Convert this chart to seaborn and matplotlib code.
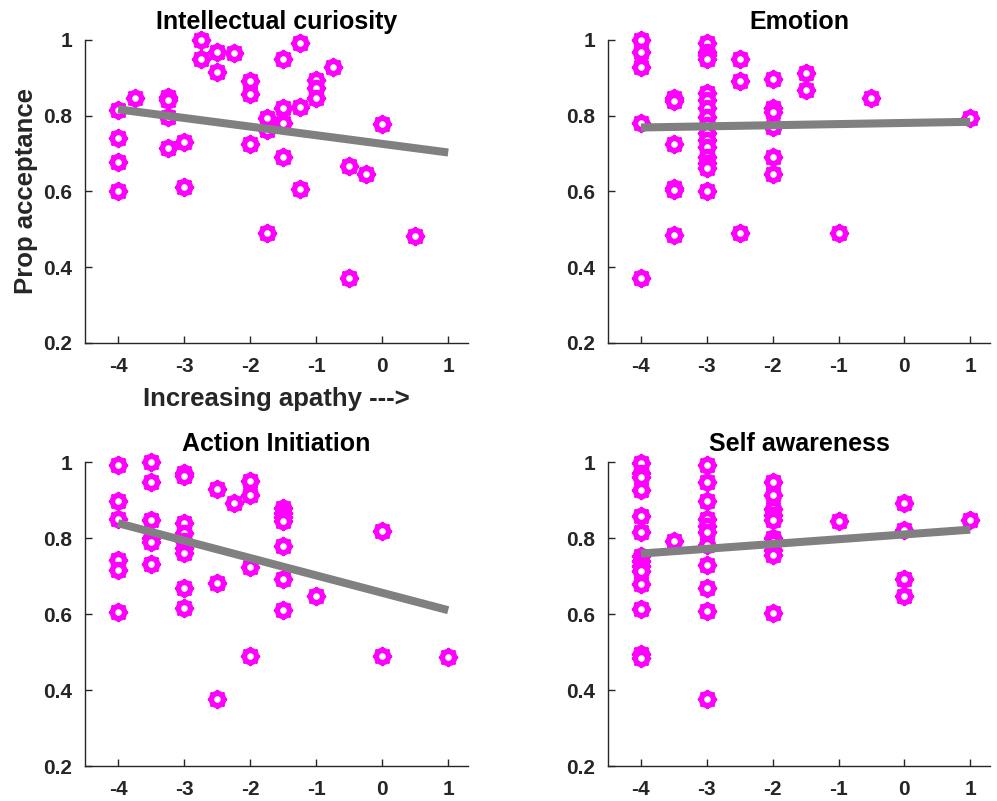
import matplotlib
matplotlib.use("Agg")
import matplotlib.pyplot as plt
import seaborn as sns
import pandas as pd

sns.set_theme(style="ticks")
plt.rcParams['font.family'] = ['Liberation Sans', 'DejaVu Sans']

titles = ["Intellectual curiosity", "Emotion", "Action Initiation", "Self awareness"]

ic_x = [-4, -4, -4, -4, -3.75, -3.25, -3.25, -3.25, -3.25, -3, -3, -2.75, -2.75,
        -2.5, -2.5, -2.25, -2, -2, -2, -1.75, -1.75, -1.75, -1.5, -1.5, -1.5, -1.5,
        -1.25, -1.25, -1.25, -1, -1, -1, -0.75, -0.5, -0.5, -0.25, 0, 0.5]
ic_y = [0.815, 0.74, 0.679, 0.6, 0.846, 0.85, 0.842, 0.797, 0.714, 0.731, 0.613, 1.0, 0.949,
        0.969, 0.916, 0.965, 0.892, 0.857, 0.725, 0.793, 0.762, 0.49, 0.82, 0.78, 0.949, 0.692,
        0.993, 0.822, 0.606, 0.894, 0.872, 0.846, 0.928, 0.667, 0.371, 0.646, 0.778, 0.483]

em_x = [-4] * 5 + [-3.5] * 6 + [-3] * 16 + [-2.5] * 3 + [-2] * 6 + [-1.5] * 2 + [-1, -0.5, 1]
em_y = [1.0, 0.969, 0.929, 0.78, 0.371,
        0.846, 0.84, 0.725, 0.61, 0.605, 0.485,
        0.993, 0.969, 0.96, 0.949, 0.859, 0.842, 0.82, 0.798, 0.776, 0.754, 0.736, 0.718,
        0.692, 0.674, 0.661, 0.6,
        0.949, 0.892, 0.49,
        0.896, 0.82, 0.811, 0.771, 0.69, 0.645,
        0.914, 0.868,
        0.49, 0.846, 0.795]

ai_x = [-4] * 6 + [-3.5] * 6 + [-3] * 9 + [-2.5] * 3 + [-2.25] + [-2] * 4 + [-1.5] * 7 + [-1, 0, 0, 1]
ai_y = [0.992, 0.898, 0.85, 0.743, 0.717, 0.605,
        1.0, 0.948, 0.848, 0.80, 0.79, 0.732,
        0.97, 0.963, 0.839, 0.813, 0.791, 0.774, 0.76, 0.669, 0.615,
        0.928, 0.682, 0.376,
        0.892,
        0.951, 0.914, 0.725, 0.49,
        0.879, 0.865, 0.855, 0.844, 0.78, 0.692, 0.61,
        0.647, 0.819, 0.49, 0.487]

sa_x = [-4] * 14 + [-3.5] + [-3] * 11 + [-2] * 10 + [-1] + [0] * 4 + [1]
sa_y = [0.998, 0.972, 0.961, 0.927, 0.857, 0.815, 0.752, 0.739, 0.726, 0.712, 0.68, 0.614, 0.494, 0.485,
        0.793,
        0.992, 0.948, 0.898, 0.85, 0.832, 0.817, 0.782, 0.73, 0.669, 0.608, 0.376,
        0.948, 0.914, 0.876, 0.861, 0.848, 0.8, 0.789, 0.769, 0.756, 0.603,
        0.846,
        0.892, 0.822, 0.692, 0.647,
        0.848]

fit_x = [-4, 1]
ic_fit = [0.817, 0.703]
em_fit = [0.769, 0.784]
ai_fit = [0.839, 0.610]
sa_fit = [0.759, 0.822]

x_ticks = [-4, -3, -2, -1, 0, 1]
y_ticks = [0.2, 0.4, 0.6, 0.8, 1.0]
y_tick_labels = ["0.2", "0.4", "0.6", "0.8", "1"]

panels = [(ic_x, ic_y, ic_fit), (em_x, em_y, em_fit), (ai_x, ai_y, ai_fit), (sa_x, sa_y, sa_fit)]

W, H = 997, 801
fig = plt.figure(figsize=(W / 100, H / 100), dpi=100)
boxes = [(85, 40, 468, 343), (608, 40, 990, 343), (85, 462, 468, 766), (608, 462, 990, 766)]

axis_col = "#262626"
mag = "#ff00ff"

for i, ((px, py, pf), (l, t, r, b)) in enumerate(zip(panels, boxes)):
    ax = fig.add_axes([l / W, 1 - b / H, (r - l) / W, (b - t) / H])
    df = pd.DataFrame({"x": px, "y": py})
    sns.scatterplot(data=df, x="x", y="y", ax=ax, marker=(8, 2, 0), s=150,
                    color=mag, edgecolor=mag, linewidth=1.8, clip_on=False, zorder=2)
    sns.scatterplot(data=df, x="x", y="y", ax=ax, marker="o", s=76,
                    facecolor="white", edgecolor=mag, linewidth=3.9, clip_on=False, zorder=3)
    fdf = pd.DataFrame({"x": fit_x, "y": pf})
    sns.lineplot(data=fdf, x="x", y="y", ax=ax, color="#808080", linewidth=5.8,
                 solid_capstyle="butt", zorder=4)
    ax.set_xlim(-4.5, 1.3)
    ax.set_ylim(0.2, 1.0)
    ax.set_xticks(x_ticks)
    ax.set_xticklabels([str(v) for v in x_ticks])
    ax.set_yticks(y_ticks)
    ax.set_yticklabels(y_tick_labels)
    sns.despine(ax=ax)
    for s in ["left", "bottom"]:
        ax.spines[s].set_color(axis_col)
        ax.spines[s].set_linewidth(1.0)
    ax.tick_params(direction="in", length=5, width=1, color=axis_col,
                   labelcolor=axis_col, labelsize=15)
    ax.tick_params(axis="x", pad=10)
    ax.tick_params(axis="y", pad=9)
    for lab in ax.get_xticklabels() + ax.get_yticklabels():
        lab.set_fontweight("bold")
    ax.set_title(titles[i], fontsize=18, fontweight="bold", color="black", pad=8)
    if i == 0:
        ax.set_xlabel("Increasing apathy --->", fontsize=18.5, fontweight="bold", color=axis_col, labelpad=8)
        ax.set_ylabel("Prop acceptance", fontsize=18.5, fontweight="bold", color=axis_col, labelpad=4)
    else:
        ax.set_xlabel("")
        ax.set_ylabel("")

fig.savefig("out.png", dpi=100)
